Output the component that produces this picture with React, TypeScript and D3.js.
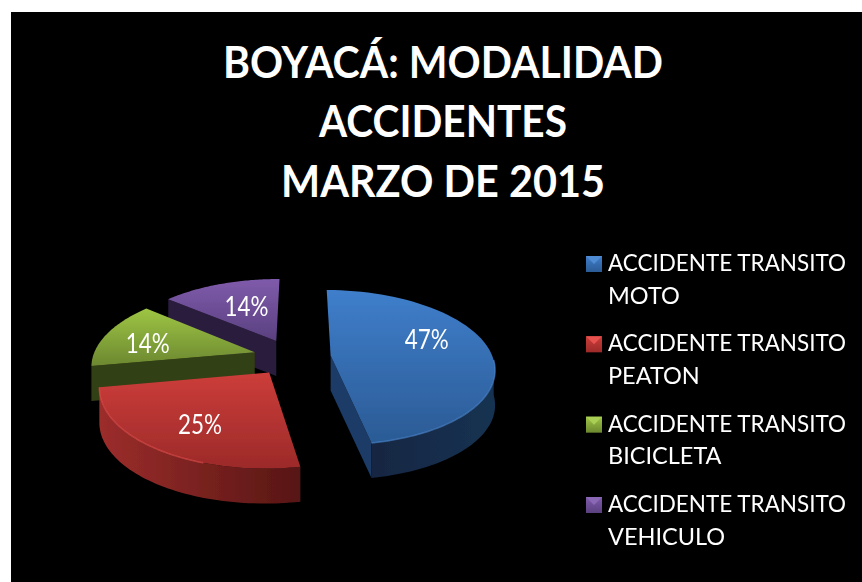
import React from "react";
import * as d3 from "d3";

const titleLines = ["BOYACÁ: MODALIDAD", "ACCIDENTES", "MARZO DE 2015"];
const categories = ["ACCIDENTE TRANSITO MOTO", "ACCIDENTE TRANSITO PEATON", "ACCIDENTE TRANSITO BICICLETA", "ACCIDENTE TRANSITO VEHICULO"];
const legendFirstLines = ["ACCIDENTE TRANSITO", "ACCIDENTE TRANSITO", "ACCIDENTE TRANSITO", "ACCIDENTE TRANSITO"];
const legendSecondLines = ["MOTO", "PEATON", "BICICLETA", "VEHICULO"];
const values = [47, 25, 14, 14];
const labels = ["47%", "25%", "14%", "14%"];

const topLight = ["#3f7ecb", "#cc3d3a", "#9ec544", "#7f5bab"];
const topDark = ["#2b5b95", "#9c2a29", "#6c8830", "#5a4080"];
const wallLight = ["#183252", "#9c2d2b", "#35421a", "#2a1c3d"];
const wallDark = ["#11233c", "#571614", "#35421a", "#2a1c3d"];
const faceColor = ["#1a3a66", "#7a2322", "#333f14", "#2a1c3c"];
const edgeColor = ["#4f8bd3", "#e8524e", "#a9cf55", "#8a68b5"];

const CX = 292, CY = 357, RX = 162, RY = 76, F = 6.5, EXPLODE = 0.24, DEPTH = 35;
const labelRadius = [0.56, 0.62, 0.62, 0.5];
const labelShift = [[7, -13], [-3, 7], [-14, 2], [0, -5]];

const arcs = d3.pie<number>().sort(null).startAngle((0.5 * Math.PI) / 180).endAngle((360.5 * Math.PI) / 180)(values);
const pathOf = d3.line<[number, number]>();

function project(u: number, v: number, z = 0): [number, number] {
  const k = F / (F + v);
  return [CX + u * RX * k, CY - v * RY * k + z];
}

export default function App() {
  const slices = arcs.map((a, i) => {
    const mid = (a.startAngle + a.endAngle) / 2;
    const u0 = EXPLODE * Math.sin(mid);
    const v0 = EXPLODE * Math.cos(mid);
    const pt = (ang: number, r: number, z = 0) => project(u0 + r * Math.sin(ang), v0 + r * Math.cos(ang), z);
    const rim = (from: number, to: number, z = 0) =>
      d3.range(0, 61).map((n) => pt(from + ((to - from) * n) / 60, 1, z));
    const apex = pt(0, 0);
    const apexLow = pt(0, 0, DEPTH);
    const rimAll = rim(a.startAngle, a.endAngle);
    const top = pathOf([apex, ...rimAll])! + "Z";
    const ys = rimAll.map((p) => p[1]).concat(apex[1]);
    const xs = rimAll.map((p) => p[0]).concat(apex[0]);
    let wall: string | null = null;
    let face: string | null = null;
    let edge: string | null = null;
    if (i === 0) {
      const from = Math.PI / 2 + 0.06;
      wall = pathOf([...rim(from, a.endAngle), ...rim(from, a.endAngle, DEPTH).reverse()])! + "Z";
      edge = pathOf(rim(from, a.endAngle))!;
      face = pathOf([apex, rimAll[60], pt(a.endAngle, 1, DEPTH), apexLow])! + "Z";
    } else if (i === 1) {
      wall = pathOf([...rim(a.startAngle, a.endAngle), ...rim(a.startAngle, a.endAngle, DEPTH).reverse()])! + "Z";
      edge = pathOf(rim(a.startAngle + 0.5, a.endAngle))!;
    } else {
      face = pathOf([apex, rimAll[0], pt(a.startAngle, 1, DEPTH), apexLow])! + "Z";
    }
    const lp = pt(mid, labelRadius[i]);
    return {
      i, top, wall, face, edge,
      y0: d3.min(ys)!, y1: d3.max(ys)!, x0: d3.min(xs)!, x1: d3.max(xs)!,
      lx: lp[0] + labelShift[i][0], ly: lp[1] + labelShift[i][1],
    };
  });
  const drawOrder = [3, 2, 1, 0];
  const legendY = d3.scalePoint<number>().domain(d3.range(categories.length)).range([263, 504]);
  const titleWidths = [440, 248, 324];

  return (
    <svg width={862} height={582} style={{ position: "absolute", left: 0, top: 0, background: "#fff" }}>
      <defs>
        {slices.map((s) => (
          <React.Fragment key={s.i}>
            <linearGradient id={`top${s.i}`} gradientUnits="userSpaceOnUse" x1={0} x2={0} y1={s.y0} y2={s.y1}>
              <stop offset="0" stopColor={topLight[s.i]} />
              <stop offset="1" stopColor={topDark[s.i]} />
            </linearGradient>
            <linearGradient id={`wall${s.i}`} gradientUnits="userSpaceOnUse" x1={s.x0} x2={s.x1} y1={0} y2={0}>
              <stop offset="0" stopColor={s.i === 0 ? wallDark[0] : wallLight[s.i]} />
              <stop offset="1" stopColor={s.i === 0 ? wallLight[0] : wallDark[s.i]} />
            </linearGradient>
            <linearGradient id={`sw${s.i}`} x1={0} x2={0} y1={0} y2={1}>
              <stop offset="0" stopColor={topLight[s.i]} />
              <stop offset="1" stopColor={topDark[s.i]} />
            </linearGradient>
          </React.Fragment>
        ))}
        <filter id="soft" x="-5%" y="-5%" width="110%" height="110%">
          <feGaussianBlur stdDeviation="0.5" />
        </filter>
      </defs>
      <rect x={11} y={12} width={851} height={570} fill="#000" />
      <g fontFamily="Lato" fontWeight={700} fontSize={44} fill="#fff" textAnchor="middle">
        {titleLines.map((t, i) => (
          <text key={t} x={443} y={[78, 137, 197][i]} textLength={titleWidths[i]} lengthAdjust="spacingAndGlyphs">{t}</text>
        ))}
      </g>
      <g filter="url(#soft)">
        {drawOrder.map((i) => {
          const s = slices[i];
          return (
            <g key={i}>
              {s.face && <path d={s.face} fill={faceColor[i]} />}
              {s.wall && <path d={s.wall} fill={`url(#wall${i})`} />}
              <path d={s.top} fill={`url(#top${i})`} />
              {s.edge && <path d={s.edge} fill="none" stroke={edgeColor[i]} strokeWidth={1.5} opacity={0.6} />}
            </g>
          );
        })}
      </g>
      <g fontFamily="Lato" fontSize={26} fill="#fff" textAnchor="middle" dominantBaseline="central">
        {slices.map((s) => (
          <text key={s.i} x={s.lx} y={s.ly} textLength={44} lengthAdjust="spacingAndGlyphs">{labels[s.i]}</text>
        ))}
      </g>
      <g>
        {categories.map((c, i) => {
          const y = legendY(i)!;
          const x0 = 586, x1 = 602, y0 = y - 7, mx = 594, my = y + 1;
          return (
            <g key={c}>
              <rect x={x0} y={y0} width={16} height={16} fill={`url(#sw${i})`} />
              <polygon points={`${x0},${y0} ${x1},${y0} ${mx},${my}`} fill={edgeColor[i]} />
              <text x={608} y={y + 8} fontFamily="Lato" fontSize={23.5} fill="#fff" textLength={238} lengthAdjust="spacingAndGlyphs">{legendFirstLines[i]}</text>
              <text x={608} y={y + 40.5} fontFamily="Lato" fontSize={23.5} fill="#fff">{legendSecondLines[i]}</text>
            </g>
          );
        })}
      </g>
    </svg>
  );
}
